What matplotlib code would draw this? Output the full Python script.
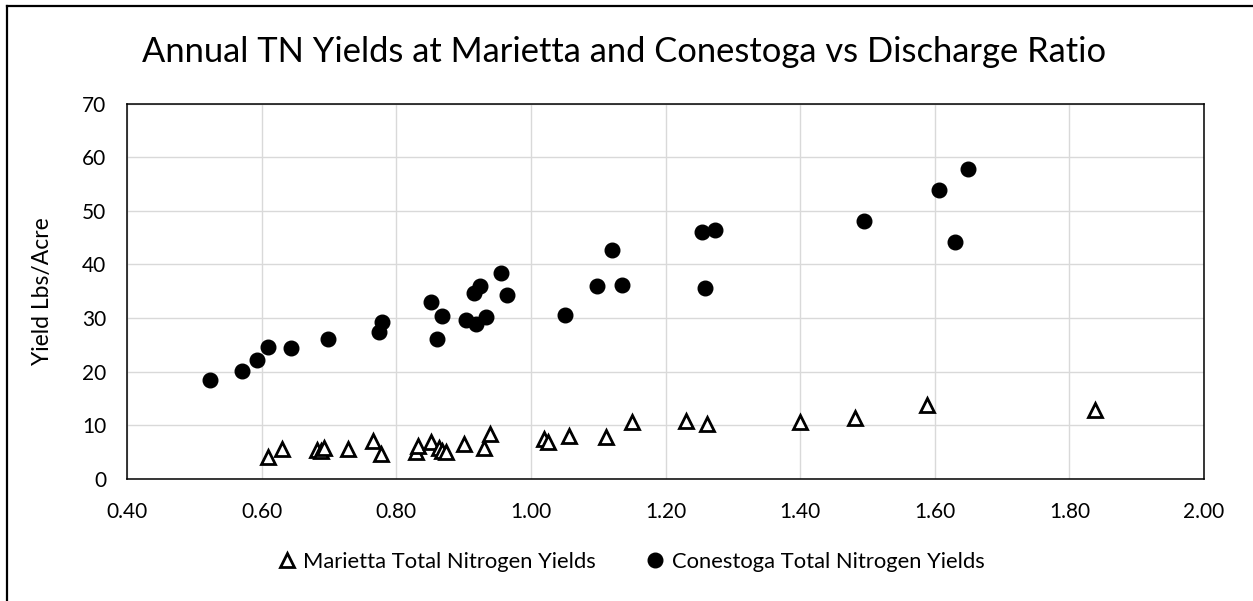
import matplotlib
matplotlib.use("Agg")
from matplotlib import pyplot as plt
from matplotlib.lines import Line2D

plt.rcParams['font.family'] = ['Lato', 'DejaVu Sans']

# Discharge ratio / TN yield (lbs/acre)
marietta_ratio = [0.610, 0.630, 0.682, 0.688, 0.693, 0.729, 0.766, 0.778, 0.830, 0.833,
                  0.851, 0.863, 0.868, 0.874, 0.900, 0.931, 0.940, 1.020, 1.025, 1.057,
                  1.111, 1.150, 1.231, 1.262, 1.400, 1.481, 1.589, 1.838]
marietta_yield = [4.1, 5.5, 5.4, 5.2, 5.8, 5.5, 7.0, 4.6, 4.9, 6.1,
                  6.9, 5.8, 5.2, 5.0, 6.4, 5.8, 8.3, 7.5, 6.9, 8.0,
                  7.8, 10.5, 10.8, 10.2, 10.6, 11.3, 13.7, 12.9]

conestoga_ratio = [0.523, 0.571, 0.593, 0.610, 0.643, 0.699, 0.775, 0.779, 0.852, 0.868,
                   0.861, 0.903, 0.918, 0.915, 0.924, 0.933, 0.955, 0.965, 1.051, 1.098,
                   1.135, 1.120, 1.254, 1.273, 1.258, 1.495, 1.606, 1.649, 1.630]
conestoga_yield = [18.5, 20.1, 22.2, 24.6, 24.3, 26.1, 27.3, 29.2, 33.0, 30.4,
                   26.0, 29.7, 28.9, 34.7, 36.0, 30.1, 38.3, 34.2, 30.5, 35.9,
                   36.1, 42.7, 46.0, 46.4, 35.5, 48.0, 53.9, 57.8, 44.1]

x_ticks = [0.40, 0.60, 0.80, 1.00, 1.20, 1.40, 1.60, 1.80, 2.00]
y_ticks = [0, 10, 20, 30, 40, 50, 60, 70]

title = 'Annual TN Yields at Marietta and Conestoga vs Discharge Ratio'
label_m = 'Marietta Total Nitrogen Yields'
label_c = 'Conestoga Total Nitrogen Yields'

W, H = 1253, 601
fig = plt.figure(figsize=(W / 100, H / 100), dpi=100)
ax = fig.add_axes([127 / W, 1 - 478.7 / H, (1204 - 127) / W, (478.7 - 103.5) / H])

ax.plot(marietta_ratio, marietta_yield, linestyle='none', marker='^', ms=10.5,
        mfc='white', mec='black', mew=2.0, zorder=3)
ax.plot(conestoga_ratio, conestoga_yield, linestyle='none', marker='o', ms=10.5,
        mfc='black', mec='black', zorder=4)

ax.set_xlim(0.40, 2.00)
ax.set_ylim(0, 70)
ax.set_xticks(x_ticks)
ax.set_xticklabels(['%.2f' % t for t in x_ticks])
ax.set_yticks(y_ticks)
ax.grid(True, color='#d9d9d9', linewidth=1.0)
ax.set_axisbelow(True)
ax.tick_params(length=0, labelsize=15, colors='black')
ax.tick_params(axis='x', pad=17)
ax.tick_params(axis='y', pad=15)
for s in ax.spines.values():
    s.set_color('black')
    s.set_linewidth(1.1)

fig.text(624 / W, 1 - 61.7 / H, title, ha='center', va='baseline', fontsize=24.8)
fig.text(42.7 / W, 1 - 291 / H, 'Yield Lbs/Acre', ha='center', va='center',
         rotation=90, fontsize=16.5)

handles = [
    Line2D([], [], linestyle='none', marker='^', ms=10.5, mfc='white', mec='black', mew=2.0),
    Line2D([], [], linestyle='none', marker='o', ms=10.5, mfc='black', mec='black'),
]
fig.legend(handles, [label_m, label_c], ncol=2, loc='center', bbox_to_anchor=(0.503, 1 - 562 / H),
           frameon=False, fontsize=15.8, handletextpad=0.25, columnspacing=2.2, handlelength=1.0)

# chart area border (left and top edges visible)
fig.add_artist(Line2D([7 / W, 7 / W], [0, 1 - 5.5 / H], transform=fig.transFigure,
                      color='black', linewidth=1.6))
fig.add_artist(Line2D([7 / W, 1], [1 - 5.5 / H, 1 - 5.5 / H], transform=fig.transFigure,
                      color='black', linewidth=1.6))

fig.savefig('out.png', dpi=100, facecolor='white')
